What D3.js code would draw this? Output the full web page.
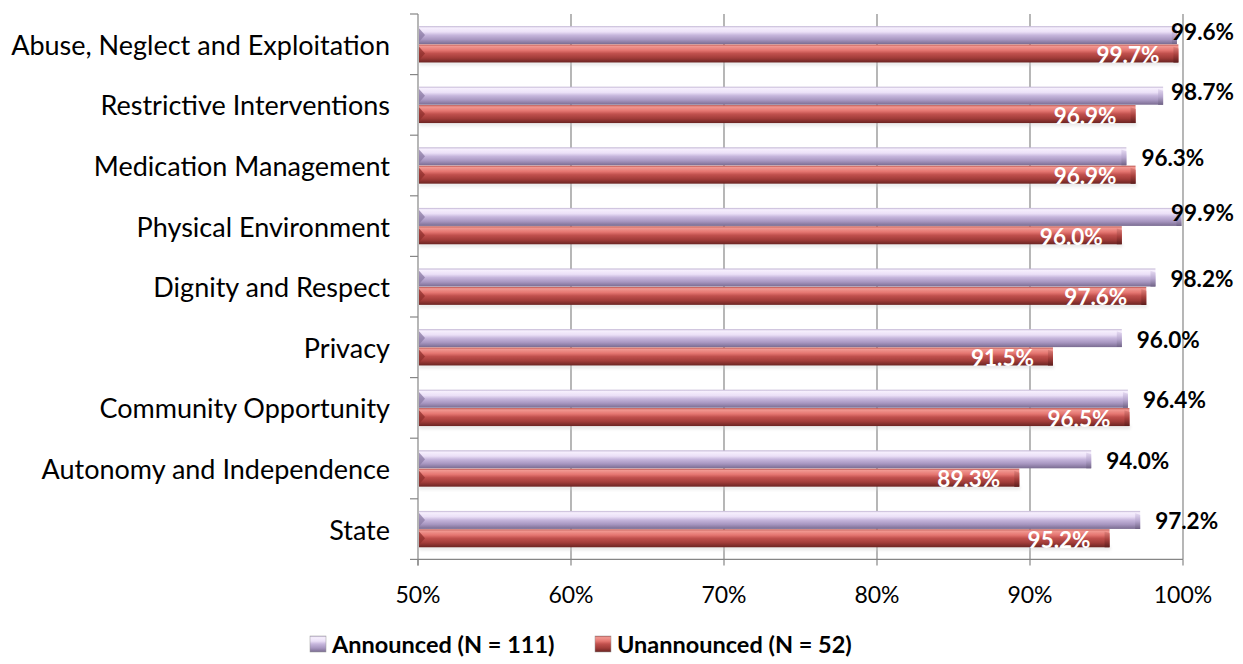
<!DOCTYPE html>
<html>
<head>
<meta charset="utf-8">
<script src="https://cdn.jsdelivr.net/npm/d3@7"></script>
<style>
  html, body { margin: 0; padding: 0; background: #fff; }
  svg { display: block; }
  text { font-family: Lato, "Open Sans", sans-serif; }
</style>
</head>
<body>
<svg id="chart" width="1243" height="664"></svg>
<script>
// Compliance rates by review area, announced vs unannounced visits
const categories = [
  "Abuse, Neglect and Exploitation",
  "Restrictive Interventions",
  "Medication Management",
  "Physical Environment",
  "Dignity and Respect",
  "Privacy",
  "Community Opportunity",
  "Autonomy and Independence",
  "State"
];
const announced   = [99.6, 98.7, 96.3, 99.9, 98.2, 96.0, 96.4, 94.0, 97.2];
const unannounced = [99.7, 96.9, 96.9, 96.0, 97.6, 91.5, 96.5, 89.3, 95.2];
const seriesNames = ["Announced (N = 111)", "Unannounced (N = 52)"];
const xTicks = [50, 60, 70, 80, 90, 100];

const svg = d3.select("#chart");
const plot = { left: 418, right: 1183, top: 14, bottom: 559.4 };

const x = d3.scaleLinear().domain([50, 100]).range([plot.left, plot.right]);
const y0 = d3.scaleBand().domain(categories)
  .range([plot.top, plot.bottom]).paddingInner(0.40).paddingOuter(0.20);
const y1 = d3.scaleBand().domain(["a", "u"]).range([0, y0.bandwidth()]).paddingInner(0.02);

// gradients giving the bars a bevelled, rounded look
const defs = svg.append("defs");
function grad(id, stops) {
  const g = defs.append("linearGradient").attr("id", id)
    .attr("x1", 0).attr("y1", 0).attr("x2", 0).attr("y2", 1);
  stops.forEach(([o, c]) => g.append("stop").attr("offset", o).attr("stop-color", c));
}
grad("gA", [[0, "#bfb2d2"], [0.1, "#f6effd"], [0.32, "#ebe0f7"], [0.5, "#c6b6dc"], [0.75, "#a796c0"], [1, "#7a6c91"]]);
grad("gU", [[0, "#b9514d"], [0.1, "#f19891"], [0.32, "#e57671"], [0.5, "#c0504d"], [0.75, "#a13c39"], [1, "#6b2422"]]);
grad("gAcap", [[0, "#e7dcf3"], [0.5, "#b7a7cf"], [1, "#6f6285"]]);
grad("gUcap", [[0, "#e0827c"], [0.5, "#a9413e"], [1, "#5d1d1c"]]);
const shadow = defs.append("filter").attr("id", "soft").attr("x", "-5%").attr("y", "-50%").attr("width", "110%").attr("height", "200%");
shadow.append("feGaussianBlur").attr("stdDeviation", 1.5);

// vertical gridlines
svg.append("g").selectAll("line").data(xTicks.slice(1)).join("line")
  .attr("x1", d => x(d)).attr("x2", d => x(d))
  .attr("y1", plot.top).attr("y2", plot.bottom)
  .attr("stroke", "#868686").attr("stroke-width", 1.2);

// category axis (left) with ticks between categories
const step = y0.step();
const catStart = plot.top;
const bounds = d3.range(categories.length + 1).map(i => catStart + i * step);
const yAxis = svg.append("g");
yAxis.append("line").attr("x1", plot.left).attr("x2", plot.left)
  .attr("y1", plot.top).attr("y2", plot.bottom + 6)
  .attr("stroke", "#868686").attr("stroke-width", 1.2);
yAxis.selectAll("line.t").data(bounds).join("line").attr("class", "t")
  .attr("x1", plot.left - 8).attr("x2", plot.left)
  .attr("y1", d => d).attr("y2", d => d)
  .attr("stroke", "#868686").attr("stroke-width", 1.2);
yAxis.selectAll("text").data(categories).join("text")
  .attr("x", 390).attr("y", d => y0(d) + y0.bandwidth() / 2)
  .attr("text-anchor", "end").attr("dominant-baseline", "central")
  .attr("font-size", 27).attr("fill", "#000").text(d => d);

// value axis (bottom)
const xAxis = svg.append("g");
xAxis.append("line").attr("x1", plot.left).attr("x2", plot.right)
  .attr("y1", plot.bottom).attr("y2", plot.bottom)
  .attr("stroke", "#868686").attr("stroke-width", 1.2);
xAxis.selectAll("line.t").data(xTicks).join("line").attr("class", "t")
  .attr("x1", d => x(d)).attr("x2", d => x(d))
  .attr("y1", plot.bottom).attr("y2", plot.bottom + 6)
  .attr("stroke", "#868686").attr("stroke-width", 1.2);
xAxis.selectAll("text").data(xTicks).join("text")
  .attr("x", d => x(d)).attr("y", 603)
  .attr("text-anchor", "middle").attr("font-size", 23).attr("fill", "#000")
  .text(d => d + "%");

// bars
const rows = categories.map((c, i) => ({ c, a: announced[i], u: unannounced[i] }));
const series = [
  { key: "a", vals: announced, fill: "url(#gA)", cap: "url(#gAcap)", notch: "#8a7aa3" },
  { key: "u", vals: unannounced, fill: "url(#gU)", cap: "url(#gUcap)", notch: "#8e2f2c" }
];
const barG = svg.append("g");
// faint shadow under each pair
barG.selectAll("rect.sh").data(rows).join("rect").attr("class", "sh")
  .attr("x", plot.left + 1)
  .attr("y", d => y0(d.c) + y0.bandwidth() - 1)
  .attr("width", d => x(d.u) - plot.left)
  .attr("height", 4).attr("fill", "#cfcfcf").attr("opacity", 0.45)
  .attr("filter", "url(#soft)");

series.forEach(s => {
  const g = barG.append("g");
  const data = categories.map((c, i) => ({ c, v: s.vals[i] }));
  const h = y1.bandwidth();
  const item = g.selectAll("g").data(data).join("g")
    .attr("transform", d => `translate(0,${y0(d.c) + y1(s.key)})`);
  item.append("rect")
    .attr("x", plot.left + 1).attr("y", 0)
    .attr("width", d => x(d.v) - plot.left - 1).attr("height", h)
    .attr("fill", s.fill);
  // bevelled right end
  item.append("path")
    .attr("d", d => {
      const e = x(d.v);
      return `M${e - 5},${h * 0.12} L${e},${h * 0.22} L${e},${h} L${e - 5},${h} Z`;
    })
    .attr("fill", s.cap);
  // chevron at the left end
  item.append("path")
    .attr("d", `M${plot.left + 1},${h * 0.12} L${plot.left + 7},${h * 0.5} L${plot.left + 1},${h * 0.88} Z`)
    .attr("fill", s.notch).attr("opacity", 0.75);
});

// value labels
const labelG = svg.append("g");
const rightLimit = 1234;
rows.forEach(d => {
  const ya = y0(d.c) + y1("a") + y1.bandwidth() / 2;
  const t = labelG.append("text")
    .attr("font-size", 22.5).attr("font-weight", 700).attr("fill", "#000")
    .attr("dominant-baseline", "central").text(d.a.toFixed(1) + "%");
  const w = t.node().getComputedTextLength();
  let lx = x(d.a) + 15;
  let ly = ya + 1;
  if (lx + w > rightLimit) { lx = rightLimit - w; ly = ya - 4; }
  t.attr("x", lx).attr("y", ly);

  const yu = y0(d.c) + y1("u") + y1.bandwidth() / 2;
  labelG.append("text")
    .attr("x", x(d.u) - 19).attr("y", yu + 1)
    .attr("text-anchor", "end").attr("dominant-baseline", "central")
    .attr("font-size", 22.5).attr("font-weight", 700).attr("fill", "#fff")
    .text(d.u.toFixed(1) + "%");
});

// legend
const legend = svg.append("g");
const legendItems = [
  { name: seriesNames[0], x: 310, fill: "url(#gA)" },
  { name: seriesNames[1], x: 595, fill: "url(#gU)" }
];
const li = legend.selectAll("g").data(legendItems).join("g")
  .attr("transform", d => `translate(${d.x},636)`);
li.append("rect").attr("width", 16).attr("height", 16).attr("fill", d => d.fill)
  .attr("stroke", "#999").attr("stroke-width", 0.5);
li.append("text").attr("x", 22).attr("y", 8).attr("dominant-baseline", "central")
  .attr("font-size", 23.5).attr("font-weight", 700).attr("fill", "#000")
  .text(d => d.name);
</script>
</body>
</html>
